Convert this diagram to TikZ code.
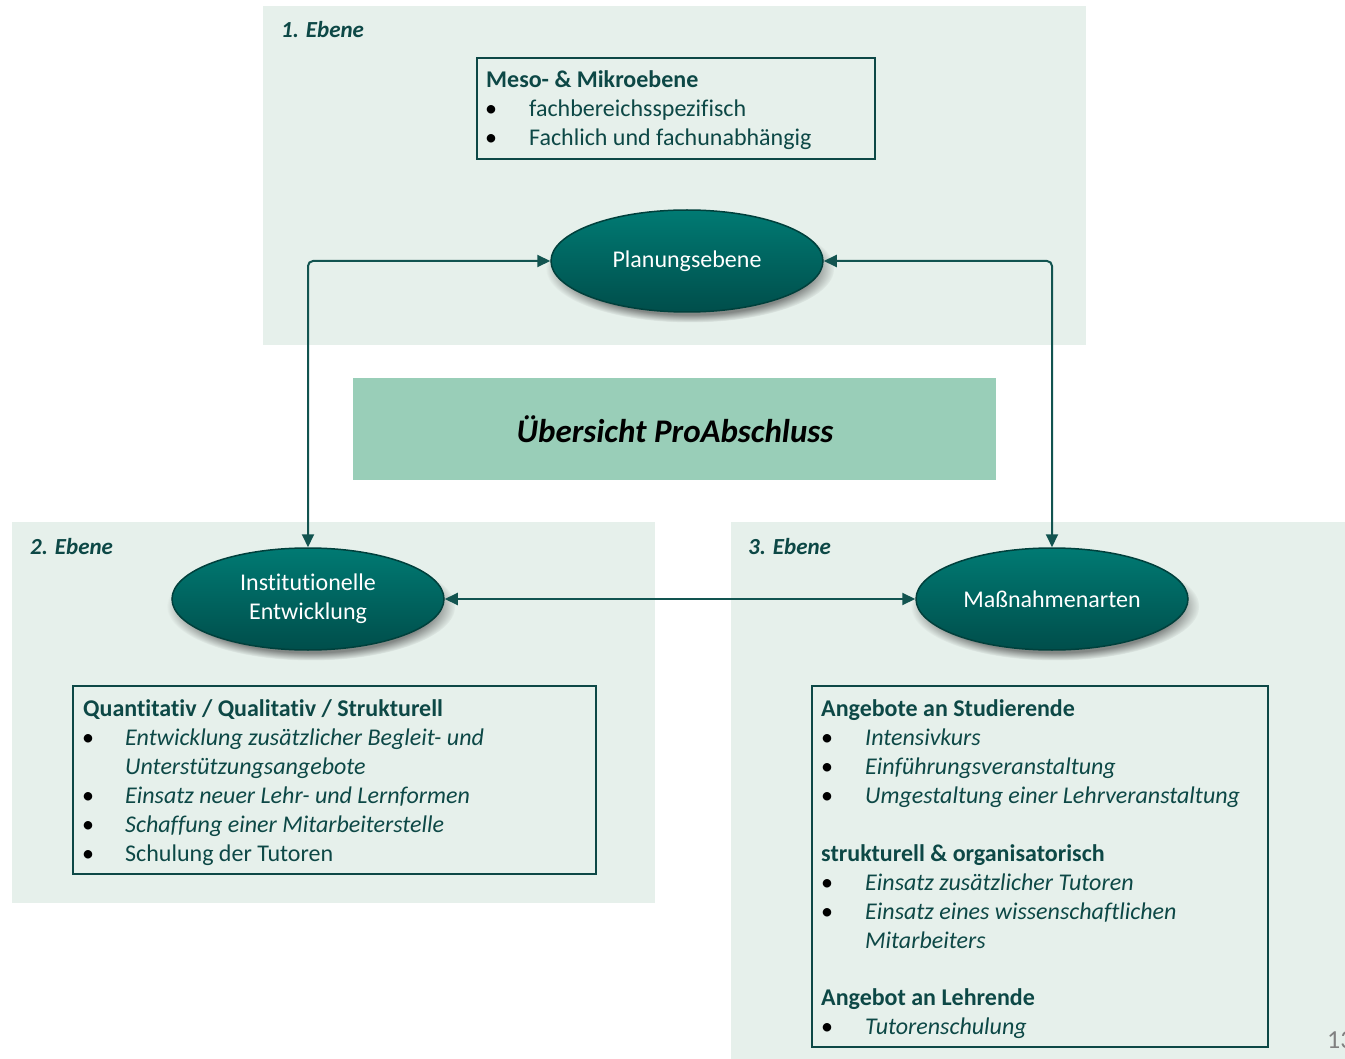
\documentclass[tikz,border=0pt]{standalone}
\usepackage{fontspec}
\setmainfont{Carlito}[Ligatures=NoCommon]
\usetikzlibrary{arrows.meta,shadows,shapes.geometric}
\definecolor{panel}{RGB}{230,240,235}
\definecolor{dteal}{RGB}{13,72,70}
\definecolor{lineteal}{RGB}{18,84,80}
\definecolor{ovtop}{RGB}{0,122,115}
\definecolor{ovbot}{RGB}{0,78,75}
\definecolor{ovline}{RGB}{0,64,60}
\definecolor{titlefill}{RGB}{153,206,184}
\tikzset{
  panelbox/.style={fill=panel, draw=none},
  listbox/.style={draw=dteal, line width=2pt, fill=none},
  oval/.style={ellipse, minimum width=272pt, minimum height=102pt, inner sep=0pt,
    top color=ovtop, bottom color=ovbot, draw=ovline, line width=1.5pt,
    text=white, font=\fontsize{24}{29}\selectfont, align=center,
    circular drop shadow={shadow xshift=3pt, shadow yshift=-7pt, shadow scale=1.06, opacity=0.55, fill=black!80}},
  ebene/.style={anchor=base west, text=dteal, font=\fontsize{23}{27}\selectfont\bfseries\itshape, inner sep=0pt},
  hd/.style={anchor=base west, text=dteal, font=\fontsize{24}{28}\selectfont\bfseries, inner sep=0pt},
  it/.style={anchor=base west, text=dteal, font=\fontsize{24}{28}\selectfont\itshape, inner sep=0pt},
  up/.style={anchor=base west, text=dteal, font=\fontsize{24}{28}\selectfont, inner sep=0pt},
  bul/.style={anchor=base, text=black, font=\fontsize{24}{28}\selectfont, inner sep=0pt},
  arr/.style={draw=lineteal, line width=2pt, rounded corners=5pt,
    {Triangle[length=13pt,width=12pt]}-{Triangle[length=13pt,width=12pt]}}
}
\begin{document}
\begin{tikzpicture}[x=1pt,y=-1pt]
\useasboundingbox (0,0) rectangle (1345,1059);
\fill[white] (0,0) rectangle (1345,1059);
% panels
\node[panelbox, minimum width=823pt, minimum height=339pt, anchor=north west, inner sep=0pt] (p1) at (263,6) {};
\node[panelbox, minimum width=643pt, minimum height=381pt, anchor=north west, inner sep=0pt] (p2) at (12,522) {};
\node[panelbox, minimum width=614pt, minimum height=537pt, anchor=north west, inner sep=0pt] (p3) at (731,522) {};
\node[ebene] (e1) at (281,38) {1. Ebene};
\node[ebene] (e2) at (30,554) {2. Ebene};
\node[ebene] (e3) at (748,554) {3. Ebene};
% title
\node[fill=titlefill, minimum width=643pt, minimum height=102pt, anchor=north west, inner sep=0pt] (tb) at (353,378) {};
\node[font=\fontsize{33}{37}\selectfont\bfseries\itshape, text=black] (tt) at (675,429) {Übersicht ProAbschluss};
% box 1
\node[listbox, minimum width=398pt, minimum height=101pt, anchor=north west, inner sep=0pt] (b1) at (476,57) {};
\node[hd] (b1h) at (486,88) {Meso- \& Mikroebene};
\node[bul] (b1b1) at (491,117) {•};
\node[up] (b1t1) at (529,117) {fachbereichsspezifisch};
\node[bul] (b1b2) at (491,146) {•};
\node[up] (b1t2) at (529,146) {Fachlich und fachunabhängig};
% box 2
\node[listbox, minimum width=523pt, minimum height=188pt, anchor=north west, inner sep=0pt] (b2) at (72,685) {};
\node[hd] (b2h) at (83,716) {Quantitativ / Qualitativ / Strukturell};
\node[bul] (b2b1) at (88,745) {•};
\node[it] (b2t1) at (125,745) {Entwicklung zusätzlicher Begleit- und};
\node[it] (b2t1b) at (125,774) {Unterstützungsangebote};
\node[bul] (b2b2) at (88,803) {•};
\node[it] (b2t2) at (125,803) {Einsatz neuer Lehr- und Lernformen};
\node[bul] (b2b3) at (88,832) {•};
\node[it] (b2t3) at (125,832) {Schaffung einer Mitarbeiterstelle};
\node[bul] (b2b4) at (88,861) {•};
\node[up] (b2t4) at (125,861) {Schulung der Tutoren};
% box 3
\node[listbox, minimum width=456pt, minimum height=361pt, anchor=north west, inner sep=0pt] (b3) at (811,685) {};
\node[hd] (b3h1) at (821,716) {Angebote an Studierende};
\node[bul] (b3b1) at (827,745) {•};
\node[it] (b3t1) at (865,745) {Intensivkurs};
\node[bul] (b3b2) at (827,774) {•};
\node[it] (b3t2) at (865,774) {Einführungsveranstaltung};
\node[bul] (b3b3) at (827,803) {•};
\node[it] (b3t3) at (865,803) {Umgestaltung einer Lehrveranstaltung};
\node[hd] (b3h2) at (821,861) {strukturell \& organisatorisch};
\node[bul] (b3b4) at (827,890) {•};
\node[it] (b3t4) at (865,890) {Einsatz zusätzlicher Tutoren};
\node[bul] (b3b5) at (827,919) {•};
\node[it] (b3t5) at (865,919) {Einsatz eines wissenschaftlichen};
\node[it] (b3t5b) at (865,948) {Mitarbeiters};
\node[hd] (b3h3) at (821,1005) {Angebot an Lehrende};
\node[bul] (b3b6) at (827,1034) {•};
\node[it] (b3t6) at (865,1034) {Tutorenschulung};
% ovals
\node[oval] (plan) at (687,261) {Planungsebene};
\node[oval] (inst) at (308,599) {Institutionelle\\Entwicklung};
\node[oval] (mass) at (1052,599) {Maßnahmenarten};
% connectors
\draw[arr] (inst.north) |- (plan.west);
\draw[arr] (mass.north) |- (plan.east);
\draw[arr] (inst.east) -- (mass.west);
% page number
\node[anchor=base west, text=gray, font=\fontsize{26}{30}\selectfont, inner sep=0pt] (pg) at (1327,1048) {13};
\end{tikzpicture}
\end{document}
